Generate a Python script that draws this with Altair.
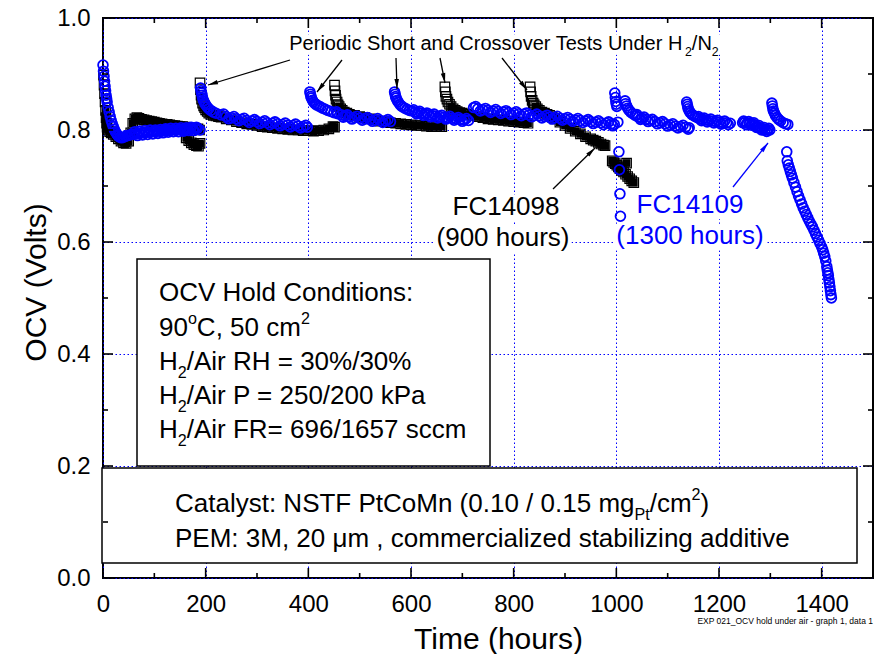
import math
import altair as alt
import pandas as pd

FONT = "Liberation Sans"
BLUE = "#0000ff"
W, H = 770, 560
LEFT, TOP = 103, 18
XMAX = 1500

# ---------------- FC14098 (black open squares) ----------------
k1_t = [1,2,3,4,5,6,7,8,10,13,16,20,25,30,35,40,45,50,54,58,62,66,70,75,80,85,90,95,100,105,110,115,120,125,130,135,140,145,150,155,160,165,170,175,180,185,188,162,167,172,177,182,186,189]
k1_v = [0.898,0.88,0.865,0.85,0.835,0.822,0.812,0.805,0.80,0.797,0.795,0.792,0.788,0.784,0.78,0.777,0.776,0.78,0.795,0.812,0.82,0.822,0.821,0.819,0.818,0.817,0.816,0.815,0.814,0.813,0.812,0.811,0.81,0.81,0.809,0.808,0.808,0.807,0.806,0.806,0.805,0.804,0.804,0.803,0.803,0.802,0.80,0.786,0.781,0.777,0.774,0.772,0.771,0.776]
k2_t = [189,190,191,192,194,196,198,200,203,206,210,215,220,225,230,240,250,260,270,280,290,300,310,320,330,340,350,360,370,380,390,400,410,420,430,440,448,451]
k2_v = [0.884,0.872,0.862,0.855,0.848,0.843,0.84,0.836,0.833,0.83,0.828,0.826,0.825,0.824,0.823,0.82,0.818,0.815,0.813,0.811,0.81,0.808,0.806,0.805,0.804,0.803,0.802,0.801,0.80,0.80,0.799,0.799,0.798,0.799,0.80,0.802,0.806,0.805]
k3_t = [451,452,453,454,456,458,460,463,466,470,475,480,490,500,510,520,530,540,550,560,570,580,590,600,610,620,630,640,650,660]
k3_v = [0.88,0.87,0.862,0.855,0.85,0.845,0.842,0.838,0.835,0.832,0.83,0.828,0.826,0.824,0.822,0.82,0.818,0.816,0.815,0.813,0.812,0.811,0.81,0.809,0.808,0.808,0.807,0.806,0.806,0.806]
k4_t = [666,667,668,670,672,675,678,682,686,690,695,700,710,720,730,740,750,760,770,780,790,800,810,820,828]
k4_v = [0.877,0.868,0.86,0.855,0.85,0.846,0.842,0.838,0.835,0.833,0.831,0.83,0.828,0.826,0.824,0.822,0.82,0.819,0.818,0.817,0.816,0.815,0.814,0.813,0.812]
k5_t = [832,833,834,836,838,840,843,846,850,855,860,865,870,875,880,890,900,910,920,930,940,950,955,960,965,970,975,978]
k5_v = [0.877,0.868,0.86,0.853,0.848,0.845,0.842,0.838,0.835,0.832,0.83,0.828,0.826,0.823,0.82,0.814,0.808,0.803,0.798,0.793,0.788,0.784,0.782,0.78,0.778,0.775,0.773,0.772]
k6_t = [992,995,998,1001,1004,1007,1010,1014,1018,1022,1026,1030,1034,1020]
k6_v = [0.745,0.742,0.74,0.737,0.734,0.731,0.728,0.725,0.721,0.717,0.713,0.709,0.706,0.741]

# ---------------- FC14109 (blue open circles) ----------------
c1_t = [0,1,2,3,4,5,6,7,8,10,12,14,16,18,20,22,24,26,28,30,33,36,40,44,48,52,56,60,65,70,75,80,85,90,95,100,105,110,115,120,125,130,135,140,145,150,155,160,165,170,175,180,184,189]
c1_v = [0.916,0.905,0.896,0.887,0.878,0.87,0.862,0.856,0.85,0.84,0.832,0.824,0.817,0.811,0.806,0.801,0.797,0.794,0.791,0.789,0.787,0.786,0.787,0.789,0.79,0.791,0.792,0.793,0.793,0.794,0.795,0.795,0.796,0.796,0.797,0.797,0.798,0.798,0.798,0.799,0.799,0.80,0.80,0.80,0.80,0.801,0.801,0.801,0.802,0.802,0.802,0.803,0.803,0.80]
c1b_t = [62,67,72,77,82,87,92,97,102,107,112,117,122,127,132,137,142,147,152,157,162,167,172,177,182]
c1b_v = [0.797,0.790,0.798,0.791,0.799,0.792,0.800,0.793,0.800,0.794,0.801,0.795,0.802,0.796,0.803,0.797,0.803,0.797,0.804,0.798,0.804,0.799,0.805,0.799,0.805]
c2_t = [190,191,192,193,194,196,198,200,203,206,210,215,220,230,240,250,260,270,280,290,300,310,320,330,340,350,360,370,380,390,398]
c2_v = [0.875,0.87,0.866,0.862,0.857,0.852,0.848,0.845,0.841,0.838,0.835,0.832,0.83,0.827,0.824,0.822,0.82,0.819,0.817,0.816,0.815,0.814,0.813,0.812,0.811,0.81,0.809,0.808,0.807,0.806,0.805]
c2b_t = [235,245,255,265,275,285,295,305,315,325,335,345,355,365,375,385,395]
c2b_v = [0.8285,0.820,0.824,0.8165,0.821,0.8135,0.8185,0.8115,0.8165,0.8095,0.8145,0.8075,0.8125,0.8055,0.8105,0.8035,0.8085]
c3_t = [403,404,405,406,408,410,413,416,420,424,428,433,438,444,450,457,464,472,480,490,500,510,520,530,540,550,560]
c3_v = [0.868,0.864,0.86,0.857,0.853,0.85,0.847,0.845,0.843,0.841,0.839,0.837,0.835,0.833,0.831,0.829,0.827,0.825,0.823,0.822,0.821,0.82,0.819,0.818,0.817,0.816,0.815]
c3b_t = [455,468,476,485,495,505,515,525,535,545,555]
c3b_v = [0.8325,0.823,0.827,0.8195,0.8245,0.8175,0.8225,0.8155,0.8205,0.8135,0.8185]
c4_t = [568,569,570,571,573,575,578,581,584,588,592,597,602,608,614,620,627,634,641,648,656,664,672,680,688,696,704,712]
c4_v = [0.868,0.864,0.86,0.857,0.853,0.85,0.846,0.843,0.841,0.839,0.837,0.835,0.834,0.832,0.831,0.83,0.828,0.827,0.826,0.825,0.824,0.823,0.822,0.821,0.82,0.819,0.818,0.817]
c4b_t = [605,611,617,624,631,638,645,652,660,668,676,684,692,700,708]
c4b_v = [0.836,0.8285,0.8335,0.826,0.8305,0.8235,0.8285,0.8215,0.8265,0.8195,0.8245,0.8175,0.8225,0.8155,0.8205]
c5_t = [722,730,740,750,760,770,780,790,800,810,820,830,840,850,860,870,880,890,900,910,920,930,940,950,960,970,980,990,996]
c5_v = [0.84,0.838,0.836,0.835,0.834,0.833,0.832,0.831,0.83,0.829,0.828,0.827,0.826,0.825,0.824,0.823,0.822,0.821,0.82,0.819,0.818,0.817,0.816,0.815,0.814,0.813,0.812,0.811,0.81]
c5b_t = [726,735,745,755,765,775,785,795,805,815,825,835,845,855,865,875,885,895,905,915,925,935,945,955,965,975,985,993]
c5b_v = [0.842,0.834,0.8385,0.8315,0.8365,0.8295,0.8345,0.8275,0.8325,0.8255,0.8305,0.8235,0.8285,0.8215,0.8265,0.8195,0.8245,0.8175,0.8225,0.8155,0.8205,0.8135,0.8185,0.8115,0.8165,0.8095,0.8145,0.8075]
c6_t = [997,998,999,1000,1001,1003,1017,1018,1020,1022,1025,1028,1032,1037,1043,1050,1058,1066,1075,1085,1095,1105,1115,1125,1135,1142]
c6_v = [0.866,0.858,0.851,0.846,0.842,0.814,0.852,0.847,0.843,0.839,0.835,0.832,0.829,0.826,0.823,0.821,0.819,0.817,0.815,0.813,0.811,0.809,0.807,0.806,0.805,0.804]
c6b_t = [1040,1047,1054,1062,1070,1080,1090,1100,1110,1120,1130,1140]
c6b_v = [0.8275,0.819,0.823,0.815,0.819,0.811,0.815,0.807,0.811,0.8035,0.8085,0.8015]
c_out_t = [1005,1006,1007,1008]
c_out_v = [0.761,0.729,0.686,0.646]
c7_t = [1137,1138,1139,1140,1142,1144,1147,1150,1154,1158,1163,1168,1174,1180,1187,1194,1201,1208,1215,1222]
c7_v = [0.85,0.846,0.842,0.838,0.834,0.831,0.828,0.826,0.824,0.822,0.82,0.819,0.818,0.817,0.816,0.815,0.814,0.813,0.813,0.812]
c7b_t = [1160,1166,1171,1177,1184,1190,1197,1204,1211,1218]
c7b_v = [0.824,0.8165,0.8215,0.8145,0.8195,0.8125,0.8175,0.8105,0.816,0.8095]
c8_t = [1246,1250,1255,1260,1265,1270,1275,1280,1285,1290,1295,1299]
c8_v = [0.813,0.813,0.812,0.812,0.811,0.809,0.806,0.804,0.802,0.801,0.80,0.80]
c8b_t = [1248,1253,1258,1263,1268,1273,1278,1283,1288,1293,1297]
c8b_v = [0.816,0.8095,0.815,0.8085,0.813,0.8045,0.808,0.800,0.8045,0.7975,0.803]
c9_t = [1303,1304,1305,1306,1308,1310,1313,1316,1320,1325,1330,1334]
c9_v = [0.848,0.843,0.838,0.834,0.83,0.826,0.822,0.819,0.816,0.813,0.811,0.81]
c10_t = [1332,1333,1335,1337,1339,1341,1343,1346,1349,1352,1355,1358,1361,1364,1367,1370,1373,1376,1379,1382,1385,1388,1391,1394,1397,1400,1402,1404,1406,1408,1410,1411,1412,1413,1414,1415,1416,1417,1418,1419]
c10_v = [0.761,0.745,0.738,0.732,0.726,0.72,0.714,0.706,0.698,0.69,0.682,0.675,0.668,0.661,0.655,0.649,0.643,0.637,0.632,0.627,0.621,0.615,0.609,0.603,0.597,0.591,0.586,0.58,0.574,0.566,0.556,0.55,0.545,0.54,0.533,0.527,0.52,0.513,0.506,0.50]

# ---------------- axis ticks ----------------
x_major = [0, 200, 400, 600, 800, 1000, 1200, 1400]
x_minor = [100, 300, 500, 700, 900, 1100, 1300, 1500]
y_major = [0.0, 0.2, 0.4, 0.6, 0.8, 1.0]
y_minor = [0.1, 0.3, 0.5, 0.7, 0.9]

# ---------------- helpers ----------------
def T(px):
    return (px - LEFT) * XMAX / W

def V(py):
    return (TOP + H - py) / H

def dT(px):
    return px * XMAX / W

def dV(py):
    return py / H

AW = {' ': 278, '!': 278, '%': 889, '(': 333, ')': 333, ',': 278, '-': 333, '.': 278, '/': 278,
      ':': 278, '=': 584, '_': 556, 'A': 667, 'B': 667, 'C': 722, 'D': 722, 'E': 667, 'F': 611,
      'G': 778, 'H': 722, 'I': 278, 'J': 500, 'K': 667, 'L': 556, 'M': 833, 'N': 722, 'O': 778,
      'P': 667, 'Q': 778, 'R': 722, 'S': 667, 'T': 611, 'U': 722, 'V': 667, 'W': 944, 'X': 667,
      'Y': 667, 'Z': 611, 'a': 556, 'b': 556, 'c': 500, 'd': 556, 'e': 556, 'f': 278, 'g': 556,
      'h': 556, 'i': 222, 'j': 222, 'k': 500, 'l': 222, 'm': 833, 'n': 556, 'o': 556, 'p': 556,
      'q': 556, 'r': 333, 's': 500, 't': 278, 'u': 556, 'v': 500, 'w': 722, 'x': 500, 'y': 500,
      'z': 500, 'μ': 576}

def tw(s, f):
    return sum(AW.get(ch, 556) for ch in s) * f / 1000.0

SUBF = 0.62
text_rows = []
bg_rows = []

def rich(segs, x0, base, F, color, anchor="left", bg=False):
    sizes = [F if k == "n" else F * SUBF for _, k in segs]
    total = sum(tw(s, f) for (s, _), f in zip(segs, sizes))
    x = x0 - total / 2 if anchor == "center" else x0
    xs = x
    for (s, k), f in zip(segs, sizes):
        y = base + (0.3 * F if k == "b" else (-0.45 * F if k == "p" else 0))
        text_rows.append(dict(t=T(x), v=V(y), text=s, size=f, color=color))
        x += tw(s, f)
    if bg:
        bg_rows.append(dict(t=T(xs - 2), t2=T(x + 2), v=V(base - 0.78 * F), v2=V(base + 0.24 * F)))

rich([("Periodic Short and Crossover Tests Under H", "n"), ("2", "b"), ("/N", "n"), ("2", "b")],
     504, 50, 20, "black", "center", True)
rich([("FC14098", "n")], 506, 215, 26, "black", "center", True)
rich([("(900 hours)", "n")], 503, 246, 26, "black", "center", True)
rich([("FC14109", "n")], 690, 213, 26, BLUE, "center", True)
rich([("(1300 hours)", "n")], 690, 244, 26, BLUE, "center", True)

rich([("OCV Hold Conditions:", "n")], 159, 301, 26, "black")
rich([("90", "n"), ("o", "p"), ("C, 50 cm", "n"), ("2", "p")], 159, 336, 26, "black")
rich([("H", "n"), ("2", "b"), ("/Air RH = 30%/30%", "n")], 159, 370, 26, "black")
rich([("H", "n"), ("2", "b"), ("/Air P = 250/200 kPa", "n")], 159, 404, 26, "black")
rich([("H", "n"), ("2", "b"), ("/Air FR= 696/1657 sccm", "n")], 159, 438, 26, "black")
rich([("Catalyst: NSTF PtCoMn (0.10 / 0.15 mg", "n"), ("Pt", "b"), ("/cm", "n"), ("2", "p"), (")", "n")],
     175, 512, 26, "black")
rich([("PEM: 3M, 20 μm , commercialized stabilizing additive", "n")], 175, 547, 26, "black")

boxes = pd.DataFrame([
    dict(t=T(137), t2=T(490), v=V(259), v2=V(466)),
    dict(t=T(102), t2=T(857), v=V(468), v2=V(563)),
])

arrows_px = [
    (290, 60, 208, 85, "black"),
    (342, 60, 317, 92, "black"),
    (396, 58, 397, 89, "black"),
    (440, 58, 445, 83, "black"),
    (502, 58, 527, 90, "black"),
    (553, 189, 595, 148, "black"),
    (733, 187, 768, 143, BLUE),
]
arrow_rows = []
for x1, y1, x2, y2, col in arrows_px:
    ang = math.degrees(math.atan2(x2 - x1, -(y2 - y1))) % 360
    arrow_rows.append(dict(t=T(x1), v=V(y1), t2=T(x2), v2=V(y2), color=col, ang=ang))
arrows = pd.DataFrame(arrow_rows)

tick_rows = []
for xv in x_major + x_minor:
    L = 10 if xv in x_major else 5
    tick_rows.append(dict(t=xv, t2=xv, v=0, v2=dV(L)))
    tick_rows.append(dict(t=xv, t2=xv, v=1, v2=1 - dV(L)))
for yv in y_major + y_minor:
    L = 10 if yv in y_major else 5
    tick_rows.append(dict(t=0, t2=dT(L), v=yv, v2=yv))
    tick_rows.append(dict(t=XMAX, t2=XMAX - dT(L), v=yv, v2=yv))
ticks = pd.DataFrame(tick_rows)

def seg(ts, vs):
    return [dict(t=a, v=b) for a, b in zip(ts, vs)]

black = pd.DataFrame(seg(k1_t, k1_v) + seg(k2_t, k2_v) + seg(k3_t, k3_v) + seg(k4_t, k4_v)
                     + seg(k5_t, k5_v) + seg(k6_t, k6_v))
blue = pd.DataFrame(seg(c1_t, c1_v) + seg(c1b_t, c1b_v) + seg(c2_t, c2_v) + seg(c2b_t, c2b_v)
                    + seg(c3_t, c3_v) + seg(c3b_t, c3b_v) + seg(c4_t, c4_v) + seg(c4b_t, c4b_v)
                    + seg(c5_t, c5_v) + seg(c5b_t, c5b_v) + seg(c6_t, c6_v) + seg(c6b_t, c6b_v)
                    + seg(c_out_t, c_out_v) + seg(c7_t, c7_v) + seg(c7b_t, c7b_v)
                    + seg(c8_t, c8_v) + seg(c8b_t, c8b_v) + seg(c9_t, c9_v) + seg(c10_t, c10_v))
texts = pd.DataFrame(text_rows)
bgs = pd.DataFrame(bg_rows)

xs = alt.Scale(domain=[0, XMAX], nice=False, zero=False)
ys = alt.Scale(domain=[0, 1], nice=False, zero=False)

x_axis = alt.Axis(values=x_major, format="d", title="Time (hours)", labelFontSize=24, labelPadding=14,
                  ticks=False, domain=False, grid=True, gridColor=BLUE, gridDash=[1.5, 2.5], gridWidth=1,
                  labelFlush=False, titleFontSize=30, titleFontWeight="normal", titleX=395, titleY=70,
                  titleBaseline="alphabetic", titleAlign="center")
y_axis = alt.Axis(values=y_major, format=".1f", title="OCV (Volts)", labelFontSize=24, labelPadding=13,
                  ticks=False, domain=False, grid=True, gridColor=BLUE, gridDash=[1.5, 2.5], gridWidth=1,
                  labelFlush=False, titleFontSize=30, titleFontWeight="normal", titleX=-58, titleY=264,
                  titleAngle=270, titleBaseline="alphabetic", titleAlign="center")

def X(f):
    return alt.X(f, scale=xs, axis=x_axis)

def Y(f):
    return alt.Y(f, scale=ys, axis=y_axis)

base_sq = alt.Chart(black).mark_point(shape="square", filled=False, size=90, strokeWidth=1.2,
                                       color="black", opacity=1).encode(x=X("t:Q"), y=Y("v:Q"))
fill_sq = alt.Chart(black).transform_filter("datum.v < 0.845").mark_point(
    shape="square", filled=True, size=60, color="black", opacity=1).encode(x=X("t:Q"), y=Y("v:Q"))
circ = alt.Chart(blue).mark_point(shape="circle", filled=False, size=95, strokeWidth=1.8,
                                   color=BLUE, opacity=1).encode(x=X("t:Q"), y=Y("v:Q"))

box_layer = alt.Chart(boxes).mark_rect(fill="white", stroke="black", strokeWidth=1.5).encode(
    x=X("t:Q"), x2="t2:Q", y=Y("v:Q"), y2="v2:Q")
bg_layer = alt.Chart(bgs).mark_rect(fill="white").encode(
    x=X("t:Q"), x2="t2:Q", y=Y("v:Q"), y2="v2:Q")

arrow_lines = alt.Chart(arrows).mark_rule(strokeWidth=1.3).encode(
    x=X("t:Q"), x2="t2:Q", y=Y("v:Q"), y2="v2:Q", color=alt.Color("color:N", scale=None))
arrow_heads = alt.Chart(arrows).mark_point(shape="M0,0L-0.45,2L0.45,2Z", filled=True, size=100,
                                           opacity=1).encode(
    x=X("t2:Q"), y=Y("v2:Q"), angle=alt.Angle("ang:Q", scale=None),
    color=alt.Color("color:N", scale=None))

text_layer = alt.Chart(texts).mark_text(align="left", baseline="alphabetic", font=FONT).encode(
    x=X("t:Q"), y=Y("v:Q"), text="text:N", size=alt.Size("size:Q", scale=None),
    color=alt.Color("color:N", scale=None))

tick_layer = alt.Chart(ticks).mark_rule(color="black", strokeWidth=1.6).encode(
    x=X("t:Q"), x2="t2:Q", y=Y("v:Q"), y2="v2:Q")

note = alt.Chart(pd.DataFrame([{"t": XMAX, "v": V(624), "text": "EXP 021_OCV hold under air - graph 1, data 1"}])).mark_text(
    align="right", baseline="alphabetic", font=FONT, fontSize=8.5,
    color="black").encode(x=X("t:Q"), y=Y("v:Q"), text="text:N")

chart = alt.layer(
    base_sq, fill_sq, circ, box_layer, bg_layer, arrow_lines, arrow_heads, text_layer, tick_layer, note
).properties(
    width=W, height=H, autosize="none",
    padding={"left": LEFT, "top": TOP, "right": 875 - LEFT - W, "bottom": 654 - TOP - H},
).configure_view(
    stroke="black", strokeWidth=2
).configure_axis(
    labelFont=FONT, titleFont=FONT, labelColor="black", titleColor="black"
)

chart.save("out.html", embed_options={"renderer": "svg", "actions": False})
